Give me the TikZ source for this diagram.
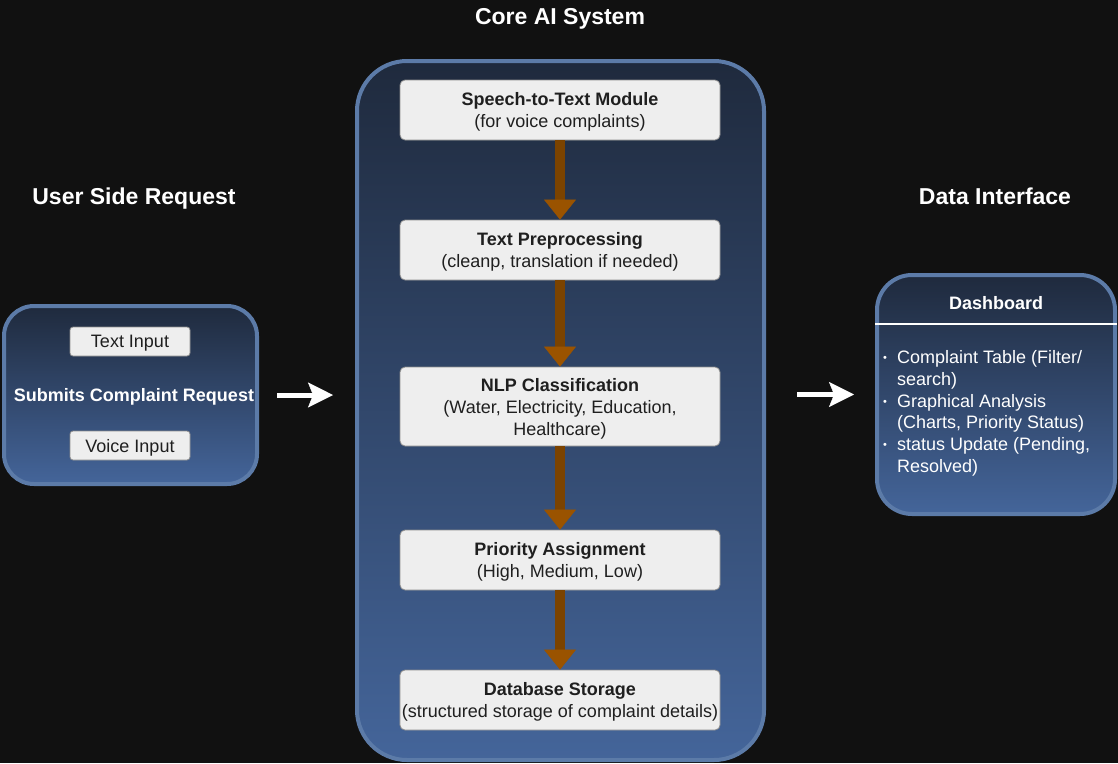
\documentclass[tikz,border=0pt]{standalone}
\usepackage{fontspec}
\setmainfont{Liberation Sans}
\usetikzlibrary{arrows.meta}

\definecolor{bgdark}{HTML}{111111}
\definecolor{panelborder}{HTML}{5C7BA8}
\definecolor{paneltop}{HTML}{1F2A3D}
\definecolor{panelbot}{HTML}{44659A}
\definecolor{stepfill}{HTML}{EEEEEE}
\definecolor{stepline}{HTML}{8C8C8C}
\definecolor{flowshaft}{HTML}{7B4300}
\definecolor{flowhead}{HTML}{9A5300}

\tikzset{
  panel/.style={draw=panelborder, line width=4pt, top color=paneltop, bottom color=panelbot, inner sep=0pt},
  stepbox/.style={draw=stepline, line width=0.8pt, fill=stepfill, rounded corners=5pt, minimum width=320pt, minimum height=60pt, align=center, text=black!88, inner sep=2pt, text depth=0pt, font=\fontsize{18}{22}\selectfont},
  inputbox/.style={draw=stepline, line width=0.8pt, fill=stepfill, rounded corners=3pt, minimum width=120pt, minimum height=29pt, inner sep=0pt, text depth=0pt, text=black!88, font=\fontsize{18}{22}\selectfont},
  heading/.style={text=white, text depth=0pt, font=\fontsize{23}{27}\selectfont\bfseries},
  whitelabel/.style={text=white, text depth=0pt, font=\fontsize{18}{22}\selectfont\bfseries},
  whitearrow/.style={draw=white, line width=5pt, -{Stealth[length=25pt, width=25pt, inset=5pt, line width=0.5pt]}},
  flowarrow/.style={draw=flowshaft, line width=10pt, -{Triangle[length=20pt, width=32pt, line width=0.5pt, fill=flowhead, color=flowhead]}}
}

\begin{document}
\begin{tikzpicture}[x=1pt, y=-1pt]

  % background
  \fill[bgdark] (0,0) rectangle (1118,763);
  \useasboundingbox (0,0) rectangle (1118,763);

  % headings
  \node[heading] (coretitle) at (560,16) {Core AI System};
  \node[heading] (usertitle) at (134,196) {User Side Request};
  \node[heading] (datatitle) at (995,196) {Data Interface};

  % user side
  \node[panel, rounded corners=30pt, minimum width=253pt, minimum height=178pt] (user) at (130.5,395) {};
  \node[inputbox] (textin) at (130,341.5) {Text Input};
  \node[whitelabel] (submit) at (134,395) {Submits Complaint Request};
  \node[inputbox] (voicein) at (130,445.5) {Voice Input};

  % core system
  \node[panel, rounded corners=50pt, minimum width=407pt, minimum height=699pt] (core) at (560.5,410.5) {};
  \node[stepbox] (speech) at (560,110) {\textbf{Speech-to-Text Module}\\(for voice complaints)};
  \node[stepbox] (prep) at (560,250) {\textbf{Text Preprocessing}\\(cleanp, translation if needed)};
  \node[stepbox, minimum height=79pt] (nlp) at (560,406.5) {\textbf{NLP Classification}\\(Water, Electricity, Education,\\Healthcare)};
  \node[stepbox] (prio) at (560,560) {\textbf{Priority Assignment}\\(High, Medium, Low)};
  \node[stepbox] (store) at (560,700) {\textbf{Database Storage}\\(structured storage of complaint details)};

  % pipeline arrows
  \draw[flowarrow] (speech.south) -- (prep.north);
  \draw[flowarrow] (prep.south) -- (nlp.north);
  \draw[flowarrow] (nlp.south) -- (prio.north);
  \draw[flowarrow] (prio.south) -- (store.north);

  % data interface
  \node[panel, rounded corners=35pt, minimum width=238pt, minimum height=239pt] (dash) at (996,394.5) {};
  \draw[white, line width=2.5pt] ([yshift=-51pt]dash.north west) -- ([yshift=-51pt]dash.north east);
  \node[whitelabel] (dashtitle) at (996,303) {Dashboard};
  \node[anchor=north west, inner sep=0pt, text=white, font=\fontsize{18}{21.8}\selectfont] (dashlist) at (883,348) {%
    \begin{tabular}{@{}l@{\hspace{10pt}}l@{}}
      \raisebox{2pt}{\fontsize{11}{11}\selectfont\textbullet} & Complaint Table (Filter/\\
       & search)\\
      \raisebox{2pt}{\fontsize{11}{11}\selectfont\textbullet} & Graphical Analysis\\
       & (Charts, Priority Status)\\
      \raisebox{2pt}{\fontsize{11}{11}\selectfont\textbullet} & status Update (Pending,\\
       & Resolved)
    \end{tabular}};

  % flow between sections
  \draw[whitearrow, shorten <=18pt, shorten >=22pt] (user.east) -- (user.east -| core.west);
  \draw[whitearrow, shorten <=31pt, shorten >=21pt] (dash.west -| core.east) -- (dash.west);

\end{tikzpicture}
\end{document}
